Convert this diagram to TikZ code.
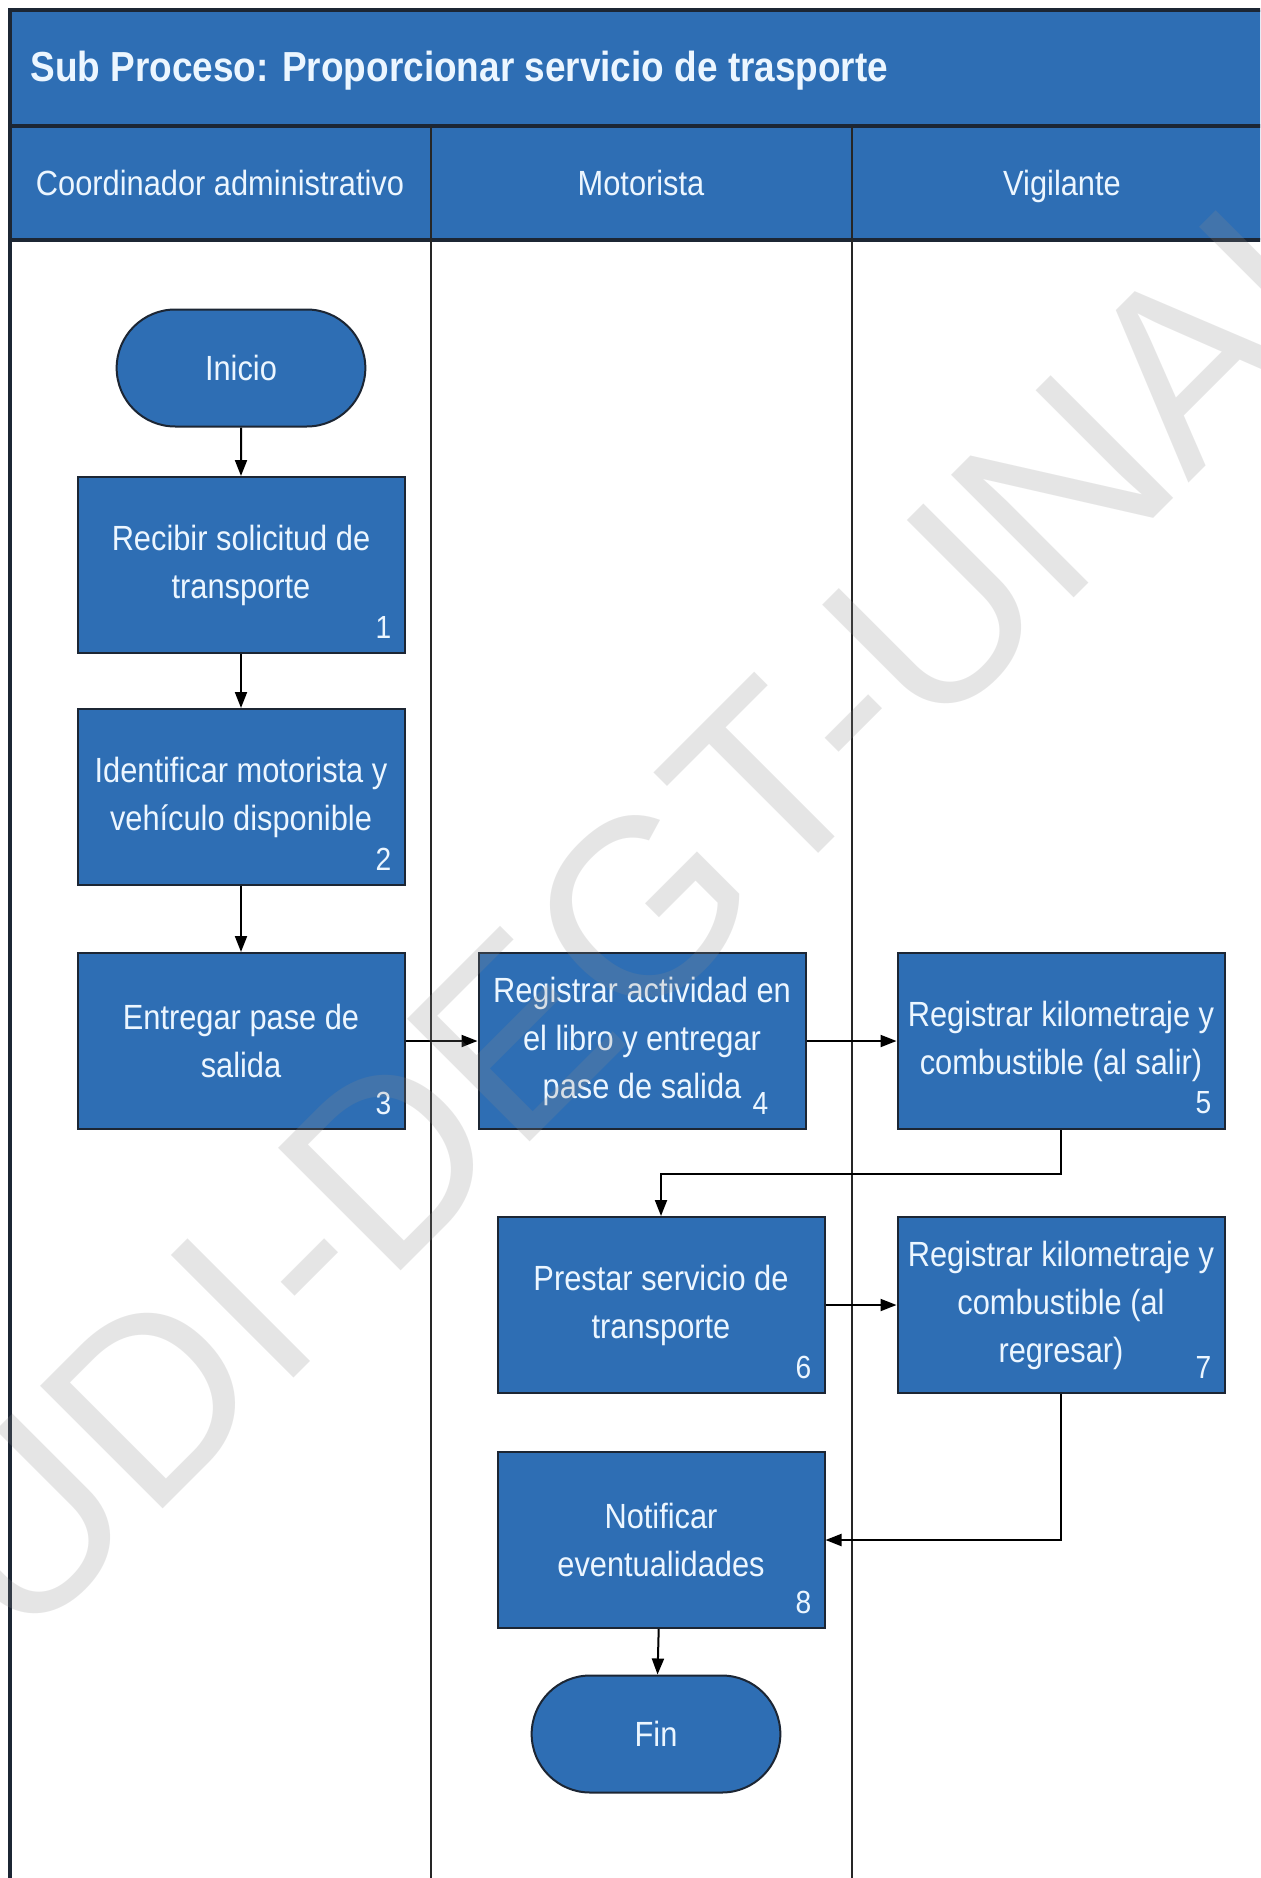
\documentclass[tikz,border=0pt]{standalone}
\usepackage{fontspec}
\setmainfont{Liberation Sans}[FakeStretch=0.88]
\newfontfamily\marcafont{Liberation Sans}
\usetikzlibrary{arrows.meta, shapes.misc}
\definecolor{carrilazul}{RGB}{46,110,180}
\definecolor{bordeosc}{RGB}{28,38,52}
\definecolor{textoclaro}{RGB}{236,246,255}
\definecolor{marcagris}{RGB}{139,139,139}

\begin{document}
\begin{tikzpicture}[x=0.5pt, y=-0.5pt,
  procbox/.style={rectangle, draw=bordeosc, line width=1pt, fill=carrilazul,
    text=textoclaro, align=center, minimum width=163.5pt, minimum height=88pt,
    inner sep=2pt, font=\fontsize{17.5}{24}\selectfont},
  termbox/.style={rounded rectangle, draw=bordeosc, line width=1pt,
    fill=carrilazul, text=textoclaro, minimum width=131pt,
    minimum height=58.5pt, font=\fontsize{17.5}{24}\selectfont},
  numlbl/.style={text=textoclaro, inner sep=0pt, font=\fontsize{16}{16}\selectfont},
  lanehead/.style={text=textoclaro, anchor=base, inner sep=0pt,
    font=\fontsize{17.5}{24}\selectfont},
  flow/.style={black, line width=1pt, -{Triangle[length=8pt, width=6pt]}}]

%% ------------------------------------------------------------------
%% page: 1260 x 1878 units, one unit = one pixel of the sheet,
%% y runs downwards so the numbers read as on the sheet
%% ------------------------------------------------------------------
\useasboundingbox (0,0) rectangle (1260,1878);
\clip (0,0) rectangle (1260,1878);
\fill[white] (0,0) rectangle (1260,1878);

% title band and lane headers (the third lane runs off the sheet)
\fill[carrilazul] (10,10) rectangle (1280,240);
\node[anchor=base west, inner sep=0pt, text=textoclaro,
  font=\fontsize{21}{25}\selectfont\bfseries] (titulo) at (30,82)
  {Sub Proceso: Proporcionar servicio de trasporte};

\node[lanehead] (hcoord) at (220,196) {Coordinador administrativo};
\node[lanehead] (hmoto) at (641,196) {Motorista};
\node[lanehead] (hvigi) at (1062,196) {Vigilante};

% frame, band borders and lane dividers
\draw[bordeosc, line width=2pt] (10,1890) -- (10,10) -- (1280,10);
\draw[bordeosc, line width=2pt] (10,126) -- (1280,126);
\draw[bordeosc, line width=2pt] (10,240) -- (1280,240);
\foreach \xl in {431,852}{ \draw[black!85, line width=1.2pt] (\xl,126) -- (\xl,1890); }

%% ------------------------------------------------------------------
%% activities
%% ------------------------------------------------------------------
\node[termbox] (ini) at (241,368) {Inicio};
\node[procbox] (b1) at (241,565) {Recibir solicitud de\\transporte};
\node[procbox] (b2) at (241,797) {Identificar motorista y\\vehículo disponible};
\node[procbox] (b3) at (241,1041) {Entregar pase de\\salida};
\node[procbox] (b4) at (642,1041) {Registrar actividad en\\el libro y entregar\\pase de salida};
\node[procbox] (b5) at (1061,1041) {Registrar kilometraje y\\combustible (al salir)};
\node[procbox] (b6) at (661,1305) {Prestar servicio de\\transporte};
\node[procbox] (b7) at (1061,1305) {Registrar kilometraje y\\combustible (al\\regresar)};
\node[procbox] (b8) at (661,1540) {Notificar\\eventualidades};
\node[termbox] (fin) at (656,1734) {Fin};

% step numbers in the lower right corner of each box
\foreach \b/\n in {b1/1, b2/2, b3/3, b5/5, b6/6, b7/7, b8/8}{
  \node[numlbl] (num\n) at ([xshift=-11pt, yshift=13.5pt]\b.south east) {\n};
}
\node[numlbl] (num4) at ([xshift=-23pt, yshift=13.5pt]b4.south east) {4};

%% ------------------------------------------------------------------
%% connectors
%% ------------------------------------------------------------------
\draw[flow] (ini) -- (b1);
\draw[flow] (b1) -- (b2);
\draw[flow] (b2) -- (b3);
\draw[flow] (b3) -- (b4);
\draw[flow] (b4) -- (b5);
\draw[flow] (b5.south) -- ++(0,44) -| (b6.north);
\draw[flow] (b6) -- (b7);
\draw[flow] (b7.south) |- (b8.east);
\draw[flow] (b8) -- (fin);

% watermark across the sheet, faint over the boxes
\begin{scope}[shift={(20,1652)}, rotate=45]
  \node[anchor=base west, inner sep=0pt, transform shape, text=marcagris,
    text opacity=0.215, font=\marcafont\fontsize{126}{130}\selectfont]
    (marca) at (0,0) {UDI-DEGT-UNAH};
\end{scope}

\end{tikzpicture}
\end{document}
